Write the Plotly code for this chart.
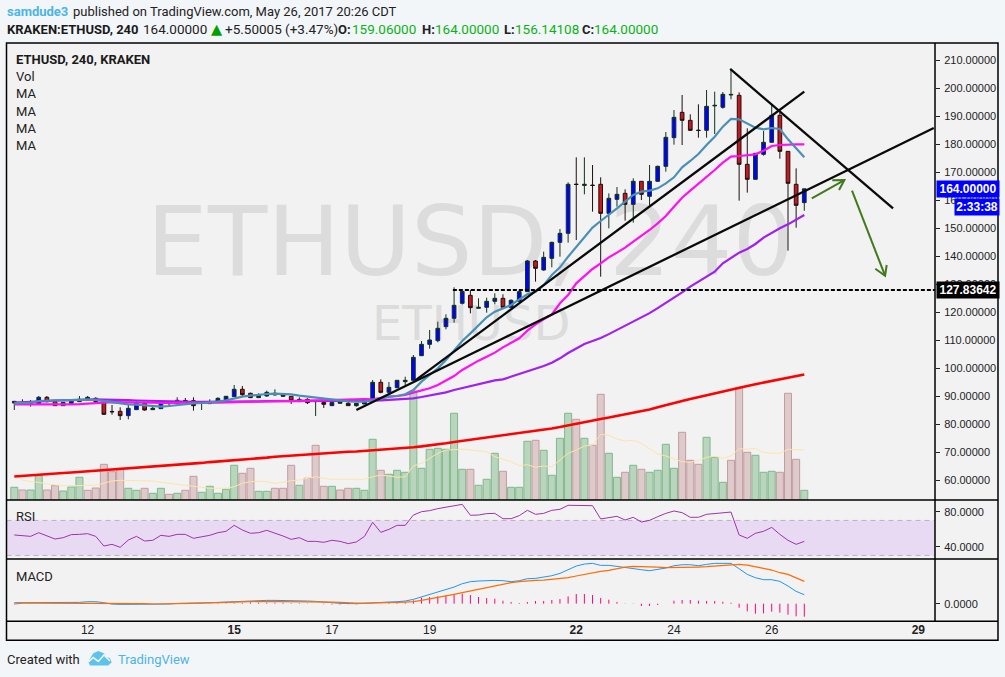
import plotly.graph_objects as go

# ---------- data ----------
bars = list(range(98))
open_ = [87.50,87.45,87.33,87.27,89.53,88.10,86.55,87.27,87.98,88.93,89.17,88.10,84.48,84.53,82.98,85.12,87.39,85.12,85.48,87.27,
         87.27,88.40,88.34,87.33,87.27,88.22,88.70,89.77,92.39,90.96,89.41,90.00,90.36,90.60,89.89,87.98,88.81,87.98,87.74,86.55,
         87.38,87.38,86.55,87.14,88.81,94.88,91.31,92.98,95.12,95.60,104.40,108.45,109.76,114.76,117.74,123.10,125.95,121.31,121.67,123.81,
         124.88,121.67,123.81,127.26,138.21,135.00,139.17,144.88,148.10,165.66,165.20,165.30,165.60,155.24,160.24,162.38,158.45,166.67,161.31,166.67,
         172.02,182.26,191.31,188.45,184.94,184.88,193.60,193.10,197.50,197.38,172.74,167.38,176.31,180.60,190.24,177.38,165.60,159.06]
high_ = [88.10,88.81,88.58,90.00,90.00,88.58,87.74,88.46,90.00,90.00,89.53,88.34,86.79,85.96,86.79,88.58,87.86,86.67,87.86,87.86,
         89.53,89.29,89.53,87.50,88.81,89.53,90.00,93.93,93.58,91.19,90.96,91.91,92.39,90.72,90.00,89.53,89.17,88.10,87.86,88.81,
         88.81,88.33,87.38,88.81,95.71,95.95,95.00,95.60,96.90,104.64,109.64,113.57,116.55,119.17,128.81,127.38,127.86,124.88,125.12,126.67,
         126.31,124.52,127.86,138.57,138.57,141.55,145.12,149.64,166.31,175.24,175.24,172.50,168.10,162.38,164.64,163.81,167.74,166.67,172.50,172.26,
         184.29,192.14,197.50,190.60,194.17,199.29,198.69,198.57,206.67,198.45,185.60,176.67,184.64,193.93,191.31,177.38,171.31,164.00]
low_ = [85.00,86.91,86.19,87.15,87.74,86.43,86.55,87.27,87.86,88.81,87.39,83.34,83.34,81.43,81.67,85.00,84.77,85.00,85.48,86.19,
        87.15,87.39,84.77,85.00,87.15,87.62,88.58,89.77,89.77,89.29,89.29,89.77,90.24,89.77,87.15,87.86,87.15,82.86,85.72,86.43,
        87.20,86.43,86.19,87.14,88.57,90.95,90.95,92.74,93.81,95.48,104.29,106.90,109.17,113.81,116.19,122.62,119.52,121.31,119.76,122.74,
        121.31,121.31,123.69,127.26,130.83,134.76,135.95,139.76,144.76,145.71,162.02,155.83,132.62,149.88,157.62,152.62,151.90,160.00,158.10,166.55,
        170.12,179.76,179.64,184.64,182.26,182.26,183.57,192.62,195.95,159.76,162.62,167.38,175.83,180.48,174.76,141.90,150.12,156.14]
close_ = [88.10,87.33,87.45,89.53,87.98,86.55,87.74,88.46,88.81,89.53,87.98,83.46,84.36,82.98,85.60,87.39,85.00,85.60,87.74,87.74,
          88.46,88.28,86.55,87.45,87.74,89.17,89.89,92.39,90.48,89.41,90.24,91.31,90.96,89.89,88.34,88.81,87.62,88.03,87.03,87.74,
          88.09,86.55,87.38,88.81,94.88,91.31,93.10,95.60,95.60,103.81,108.45,110.00,114.17,117.74,122.38,127.38,121.55,121.67,123.81,124.88,
          121.67,124.17,127.26,138.21,135.60,139.52,144.88,148.10,165.60,165.54,165.60,165.20,155.24,160.60,162.02,158.45,166.67,162.02,166.67,172.02,
          182.38,189.52,188.45,184.88,184.82,193.45,193.80,197.74,197.70,172.74,167.38,176.67,180.60,190.24,177.38,165.95,158.10,164.00]
volume = [12.7,10,10,24.3,10,14.3,9,13,22.7,9.7,12,35.7,28.3,31.7,11.7,9.7,11.7,6.7,11.7,5.7,
          6.7,9.7,23.7,7.7,13.7,6.7,10.7,34.7,26.7,31.7,8.7,8.7,11.7,11.7,34.7,14.7,21.7,54.7,13.7,13.7,
          10,11.7,11.7,9.7,60.7,29.7,25.7,29.7,27.7,109,31.7,50.7,51.7,50.7,86.7,30.7,30.7,14.7,20.7,46.7,
          28.7,12.7,12.7,58.7,59.7,49.7,24.7,61.7,86.7,80.7,61.7,54.7,105.7,46.7,22.7,27.7,34.7,30.7,27.7,29.7,
          55.7,31.7,67.7,39.7,35.7,62.7,42.7,17.7,39.7,112.7,47.7,44.7,27.7,28.7,27.7,106.7,40.7,9.7]
volume_up = [1,0,1,1,0,0,1,1,1,0,0,0,0,0,1,1,0,1,1,0,
             1,0,0,1,1,1,1,1,0,0,1,1,0,0,0,1,0,0,0,1,
             0,0,1,1,1,0,1,1,1,1,1,1,1,1,1,1,0,1,1,1,
             0,1,1,1,0,1,1,1,1,0,1,0,0,1,1,0,1,0,1,1,
             1,1,0,0,0,1,1,1,0,0,0,1,1,1,0,0,0,1]
volume_ma = [27,20,18.3,17.7,16,15,14.3,14.3,14.7,14.7,14.7,16.7,19,19.7,19.7,19.7,19.7,19,17.7,16.7,
             16,14.7,13.3,12.3,11.7,11.7,11.7,13.3,16.7,18.3,18.7,18.3,16.7,17.7,19.3,20,21.7,23.3,21.7,20.7,
             20.7,20.7,20.7,20.7,23.3,25,24,22.7,23.3,34,36.7,41.7,46.7,50,50.7,50.7,50,49.3,48.3,43.3,
             41,38.3,34.3,35.3,32.7,34,33.3,40,46.7,50,54,55,65.7,64.7,61,59,59.7,56.7,51.7,46,
             44,41,38.3,37.7,39.3,42.7,43.7,41.7,44,51.3,50.7,51.7,47.7,46.7,46.7,50.7,50.7,50]
ma_blue = [87.38,87.38,87.62,88.22,88.46,88.46,88.46,88.58,88.58,88.69,88.58,88.22,87.74,87.27,87.03,86.91,86.67,86.31,86.19,86.43,
           86.79,87.27,87.38,87.50,87.62,87.98,88.46,89.17,89.77,90.12,90.48,90.72,90.84,90.84,90.60,90.12,89.77,89.41,89.17,88.93,
           88.58,88.09,87.98,87.98,88.45,89.17,89.76,90.00,90.60,92.14,95.12,97.50,99.88,102.86,106.19,109.64,112.38,115.36,118.10,120.12,
           121.31,122.50,124.52,126.31,127.26,129.60,133.20,135.95,139.76,143.33,146.90,150.12,152.50,154.64,157.02,159.40,161.79,162.98,163.33,164.17,
           165.95,168.10,171.67,173.93,176.43,179.64,182.62,186.19,188.93,188.81,187.38,185.83,185.24,185.71,185.36,181.67,178.45,175.24]
ma_magenta = [87.0,87.0,86.9,86.9,86.8,86.8,86.9,87.0,87.1,87.2,87.4,87.6,87.8,87.8,87.7,87.7,87.6,87.6,87.5,87.5,
              87.4,87.4,87.4,87.5,87.5,87.6,87.7,87.8,87.8,87.9,88.0,88.1,88.1,88.2,88.2,88.3,88.3,88.4,88.4,88.5,
              88.6,88.9,88.9,88.9,88.81,89.4,89.76,90.0,90.36,91.19,91.9,92.74,93.93,95.48,97.14,99.29,101.07,102.62,104.05,105.48,
              107.38,109.05,110.6,113.33,115.6,117.38,119.17,123.1,126.07,130.24,132.86,135.36,137.38,139.52,141.19,142.98,145.12,147.14,149.29,151.67,
              154.29,157.62,160.83,163.33,165.71,168.33,170.71,173.33,175.48,175.71,175.95,176.31,177.62,179.29,179.64,179.88,179.88,179.88]
ma_purple = [87.6,87.7,87.8,88.0,88.2,88.4,88.5,88.6,88.7,88.8,88.8,88.7,88.7,88.6,88.5,88.4,88.3,88.2,88.1,88.1,
             88.0,88.0,87.9,87.9,87.9,87.9,87.9,88.0,88.0,88.0,88.1,88.2,88.2,88.3,88.3,88.3,88.3,88.3,88.2,88.2,
             88.1,88.1,88.1,88.2,88.33,88.45,88.57,88.69,88.93,89.17,89.64,90.12,90.6,91.31,92.14,92.86,93.57,94.29,95.0,95.6,
             95.95,96.9,97.62,98.69,99.64,100.7,101.9,103.45,105.36,107.02,108.57,109.64,110.7,112.1,113.6,115.0,116.8,118.2,119.6,121.4,
             123.2,125.0,127.02,129.05,130.83,132.62,134.4,137.38,139.17,141.19,142.5,144.29,146.55,148.33,149.88,151.31,152.86,154.64]
ma_red = [61.25,61.5,61.7,61.9,62.1,62.3,62.5,62.7,62.9,63.1,63.3,63.6,63.8,64.0,64.2,64.4,64.6,64.8,65.0,65.2,
          65.4,65.7,65.9,66.1,66.4,66.6,66.9,67.15,67.4,67.6,67.8,68.0,68.3,68.5,68.7,69.0,69.2,69.5,69.7,69.9,
          70.0,70.1,70.2,70.4,70.5,70.7,71.0,71.2,71.5,71.7,72.0,72.3,72.6,73.1,73.6,74.0,74.3,74.7,75.0,75.4,
          75.8,76.2,76.7,77.1,77.5,77.9,78.4,78.9,79.5,80.1,80.8,81.3,81.8,82.3,82.9,83.4,83.9,84.5,85.2,86.0,
          86.8,87.5,88.2,88.9,89.6,90.3,91.0,91.7,92.4,93.0,93.6,94.2,94.8,95.4,96.0,96.6,97.2,97.7]
rsi = [53.4,52.2,51.8,56.0,52.6,48.8,50.3,53.8,54.1,54.9,51.8,40.8,42.7,39.3,47.6,51.8,46.5,47.3,53.0,51.8,
       54.1,54.1,49.6,51.5,53.0,56.0,57.6,64.4,59.1,55.3,56.0,58.7,55.7,52.2,48.4,50.3,46.1,46.1,45.0,47.3,
       46.1,43.5,45.4,51.8,67.9,56.4,59.8,64.4,64.4,76.2,80.0,81.2,83.5,85.4,87.3,88.4,75.9,76.2,77.8,78.1,
       72.0,72.0,75.5,81.6,77.0,78.1,81.6,82.7,87.3,87.3,87.3,86.9,71.7,73.6,74.7,70.5,73.6,68.2,70.1,74.3,
       78.1,80.8,78.9,73.6,73.6,77.0,78.1,79.3,79.6,53.4,49.6,55.3,57.6,62.1,54.1,47.3,42.7,46.1]
macd = [.37,.37,.37,.25,.25,.25,.25,.37,.49,.74,.74,.37,-.12,-.25,-.25,-.12,0,-.12,-.12,-.12,
        .12,.25,.37,.37,.37,.49,.62,.74,1.11,1.23,1.23,1.23,1.23,1.23,1.11,1.11,.99,.86,.49,.37,
        .12,0,0,.12,.37,.49,.62,.74,.99,1.6,2.47,3.46,4.2,5.06,6.17,7.41,8.15,8.4,8.64,8.64,
        8.52,8.15,8.52,9.26,9.38,9.75,10.37,11.23,12.59,13.95,14.69,14.94,14.2,14.2,13.83,13.33,13.09,12.59,12.22,12.72,
        13.21,14.07,14.44,14.44,14.07,14.57,14.94,14.94,14.94,12.96,10.86,9.63,8.89,8.89,8.27,6.54,4.57,3.33]
signal = [-.12,.25,.25,.25,.25,.25,.25,.25,.25,.25,.25,.25,.12,.12,.25,.12,0,-.12,-.12,-.12,
          0,.12,.12,.2,.25,.3,.37,.49,.62,.74,.86,.86,.86,.86,.86,.86,.86,.86,.62,.62,
          .49,.25,.25,.25,.25,.37,.49,.49,.62,.74,1.23,1.73,2.22,2.84,3.46,4.07,4.69,5.43,6.05,6.79,
          7.41,7.78,8.15,8.52,8.64,8.77,9.01,9.26,9.63,10.25,10.86,11.36,11.98,12.35,13.09,13.58,13.83,13.83,13.83,13.58,
          13.33,13.33,13.46,13.58,13.58,13.7,13.95,14.32,14.57,14.57,14.32,13.58,13.09,12.47,11.48,10.86,9.63,8.27]
histogram = [-.2,.1,.1,0,0,.1,.1,.1,.2,.3,.3,.1,-.2,-.2,-.3,-.2,0,0,0,0,
             .1,.1,.2,.2,.1,.2,.2,.2,.3,.5,.4,.4,.4,.4,.2,.2,.1,0,-.2,-.3,
             -.3,-.2,-.2,-.1,.1,.1,.2,.3,.4,1.23,2.22,2.47,2.72,3.09,3.58,3.7,3.21,2.47,2.1,1.85,
             1.11,.62,.25,.62,.99,.99,1.36,1.73,2.72,3.58,3.58,3.21,2.1,1.48,.62,.12,.12,-.86,-.86,-.49,
             0,1.11,1.36,1.36,1.11,.99,.99,.74,.37,-1.48,-2.84,-3.7,-3.58,-2.96,-3.33,-4.07,-4.69,-4.81]
for a in (open_,high_,low_,close_,volume,volume_up,volume_ma,ma_blue,ma_magenta,ma_purple,ma_red,rsi,macd,signal,histogram):
    assert len(a) == 98, len(a)

trend_bar = [42, 112.9, None, 49.2, 97, None, 87.9, 107.9]
trend_price = [85.0, 185.7, None, 95.5, 198.7, None, 206.8, 157.0]
support_bar = [53.85, 113.05]
support_price = [127.83642, 127.83642]
arrow_bar = [97.92, 101.92, None, 100.44, 101.92, 101.27, None, 102.86, 106.92, None, 105.72, 106.92, 107.12]
arrow_price = [160.6, 167.14, None, 167.04, 167.14, 163.57, None, 163.32, 132.96, None, 135.46, 132.96, 136.79]

date_bars = [9, 27, 39, 51, 69, 81, 93, 111]
date_labels = ["12", "<b>15</b>", "17", "19", "<b>22</b>", "24", "26", "<b>29</b>"]
price_ticks = [60, 70, 80, 90, 100, 110, 120, 130, 140, 150, 160, 170, 180, 190, 200, 210]
rsi_ticks = [40, 80]
macd_ticks = [0]

# ---------- layout helpers (page pixels -> paper fractions) ----------
W, H = 1005, 677
px = lambda x: x / W
py = lambda y: 1 - y / H
LEFT, RIGHT, OUTER = 6.5, 935.0, 998.0
TOP, PANE1, PANE2, PANE3, BOTTOM = 43.0, 500.0, 559.0, 621.3, 640.3
X_FONT = "Liberation Sans, Arial, sans-serif"
UI_FONT = "Roboto, sans-serif"
WM_FONT = "DejaVu Sans, sans-serif"

fig = go.Figure()

# watermark (behind everything, on the base axis)
fig.add_trace(go.Scatter(x=[56], y=[249], mode="text", text=["ETHUSD,\u00a0240"], textposition="middle center",
                         textfont=dict(family=WM_FONT, size=97, color="#dcdcdc"), xaxis="x", yaxis="y", hoverinfo="skip"))
fig.add_trace(go.Scatter(x=[56.1], y=[172], mode="text", text=["ETHUSD"], textposition="middle center",
                         textfont=dict(family=WM_FONT, size=48, color="#dcdcdc"), xaxis="x", yaxis="y", hoverinfo="skip"))

# volume on the base axis
fig.add_trace(go.Bar(x=bars, y=volume, width=0.86, xaxis="x", yaxis="y",
                     marker=dict(color=["#bad5bd" if u else "#dec9cb" for u in volume_up],
                                 line=dict(color=["#7fb98b" if u else "#c29ca0" for u in volume_up], width=1))))
fig.add_trace(go.Scatter(x=bars, y=volume_ma, mode="lines", line=dict(color="#fde5a8", width=1), xaxis="x", yaxis="y"))

# price overlay
fig.add_trace(go.Candlestick(x=bars, open=open_, high=high_, low=low_, close=close_, xaxis="x", yaxis="y2",
                             whiskerwidth=0,
                             increasing=dict(fillcolor="#0000ff", line=dict(color="#12331a", width=1)),
                             decreasing=dict(fillcolor="#c8181e", line=dict(color="#1c1010", width=1))))
for series, colour, lw in ((ma_red, "#ff0000", 2.6), (ma_purple, "#a01ff2", 2.2), (ma_magenta, "#ff10f0", 2.2), (ma_blue, "#4a90b5", 2.2)):
    fig.add_trace(go.Scatter(x=bars, y=series, mode="lines", line=dict(color=colour, width=lw), xaxis="x", yaxis="y2"))
fig.add_trace(go.Scatter(x=trend_bar, y=trend_price, mode="lines", line=dict(color="#0a0a0a", width=2.3), xaxis="x", yaxis="y2"))
fig.add_trace(go.Scatter(x=support_bar, y=support_price, mode="lines", line=dict(color="#000000", width=2, dash="4px,2px"), xaxis="x", yaxis="y2"))
fig.add_trace(go.Scatter(x=arrow_bar, y=arrow_price, mode="lines", line=dict(color="#41791f", width=2), xaxis="x", yaxis="y2"))

# RSI
fig.add_trace(go.Scatter(x=bars, y=rsi, mode="lines", line=dict(color="#a032ae", width=1), xaxis="x", yaxis="y3"))

# MACD: histogram stems as one broken line through the bar positions
stem_x, stem_y = [], []
for b, h in zip(bars, histogram):
    stem_x += [b, b, None]
    stem_y += [0, h, None]
fig.add_trace(go.Scatter(x=stem_x, y=stem_y, mode="lines", line=dict(color="#ff0080", width=1), xaxis="x", yaxis="y4"))
fig.add_trace(go.Scatter(x=bars, y=macd, mode="lines", line=dict(color="#2196f3", width=1), xaxis="x", yaxis="y4"))
fig.add_trace(go.Scatter(x=bars, y=signal, mode="lines", line=dict(color="#ff6d00", width=1.2), xaxis="x", yaxis="y4"))


def rect(x0, y0, x1, y1, fill=None, line=None, width=1, layer="below"):
    return dict(type="rect", xref="paper", yref="paper", x0=px(x0), x1=px(x1), y0=py(y0), y1=py(y1),
                fillcolor=fill or "rgba(0,0,0,0)", line=dict(color=line or "rgba(0,0,0,0)", width=width), layer=layer)


def hline(x0, x1, y, colour="#000000", width=1.5, layer="above"):
    return dict(type="line", xref="paper", yref="paper", x0=px(x0), x1=px(x1), y0=py(y), y1=py(y),
                line=dict(color=colour, width=width), layer=layer)


def vline(x, y0, y1, colour="#000000", width=1.5, layer="above"):
    return dict(type="line", xref="paper", yref="paper", x0=px(x), x1=px(x), y0=py(y0), y1=py(y1),
                line=dict(color=colour, width=width), layer=layer)


def poly(points):
    return "M" + "L".join(f"{px(x):.5f},{py(y):.5f}" for x, y in points) + "Z"


shapes = [
    rect(LEFT, TOP, OUTER, BOTTOM, fill="#f2f2f2"),
    dict(type="rect", xref="paper", yref="y3", x0=px(LEFT), x1=px(RIGHT), y0=30, y1=70, fillcolor="#e8daf3",
         line=dict(width=0), layer="below"),
    dict(type="line", xref="paper", yref="y3", x0=px(LEFT), x1=px(RIGHT), y0=70, y1=70,
         line=dict(color="#bfb0c4", width=1, dash="5px,4px"), layer="below"),
    dict(type="line", xref="paper", yref="y3", x0=px(LEFT), x1=px(RIGHT), y0=30, y1=30,
         line=dict(color="#bfb0c4", width=1, dash="5px,4px"), layer="below"),
    rect(LEFT, TOP, OUTER, BOTTOM, line="#000000", width=1.5, layer="above"),
    hline(LEFT, OUTER, PANE1), hline(LEFT, OUTER, PANE2), hline(LEFT, OUTER, PANE3),
    vline(RIGHT, TOP, PANE3),
    # TradingView logo
    dict(type="path", xref="paper", yref="paper", layer="above", line=dict(width=0), fillcolor="#5cc3ea",
         path=poly([(88.3, 661.7), (93.3, 653.3), (98.3, 651), (104, 653.3), (106, 656.7), (110, 658.3),
                    (111.7, 662.3), (108.3, 665.5), (90, 665.5)])),
    dict(type="path", xref="paper", yref="paper", layer="above", line=dict(color="#f2f6f9", width=1.6),
         fillcolor="rgba(0,0,0,0)",
         path="M" + "L".join(f"{px(x):.5f},{py(y):.5f}" for x, y in [(88.3, 662), (93.3, 657.5), (98.3, 661.5), (104, 655), (110, 661)])),
]


def text(x, y, s, size=13, colour="#222222", family=UI_FONT, xanchor="left", **kw):
    return dict(xref="paper", yref="paper", x=px(x), y=py(y), text=s, showarrow=False, xanchor=xanchor,
                yanchor="middle", align="left", font=dict(family=family, size=size, color=colour), borderpad=0, **kw)


GREEN = "#0ab216"
DIGITS = 13.5
annotations = [
    text(5.5, 11, "<b>samdude3</b>", colour="#4ab5e6"),
    text(71.5, 11, "published on TradingView.com, May 26, 2017 20:26 CDT"),
    text(5.5, 29, "<b>KRAKEN:ETHUSD, 240</b>", colour="#1a1a1a"),
    text(142, 29, "164.00000", size=DIGITS),
    text(209.5, 29, "\u25b2", colour="#00a000", size=14.5, family=WM_FONT),
    text(224, 29, "+5.50005 (+3.47%)", size=DIGITS),
    text(336.7, 29, "<b>O:</b>"), text(351, 29, "159.06000", colour=GREEN, size=DIGITS),
    text(420.7, 29, "<b>H:</b>"), text(434, 29, "164.00000", colour=GREEN, size=DIGITS),
    text(503.3, 29, "<b>L:</b>"), text(514, 29, "156.14108", colour=GREEN, size=DIGITS),
    text(580.7, 29, "<b>C:</b>"), text(593.3, 29, "164.00000", colour=GREEN, size=DIGITS),
    text(14.5, 60, "<b>ETHUSD, 240, KRAKEN</b>", colour="#1a1a1a"),
    text(14.5, 77, "Vol"), text(14.5, 94, "MA"), text(14.5, 111, "MA"), text(14.5, 128, "MA"), text(14.5, 145, "MA"),
    text(14.5, 516.5, "RSI"), text(14.5, 576.5, "MACD"),
    text(5.5, 659.5, "Created with"),
    text(116.5, 659.5, "TradingView", colour="#4ab5e6"),
]
for value, label, bg in ((164.0, "164.00000", "#0000ff"), (127.83642, "127.83642", "#000000")):
    annotations.append(dict(xref="paper", yref="y2", x=px(RIGHT + 0.7), y=value, text=f"<b>{label}</b>", showarrow=False,
                            xanchor="left", yanchor="middle", width=62, height=15.7, bgcolor=bg, align="center",
                            font=dict(family=X_FONT, size=12, color="#ffffff"), borderpad=0))
annotations.append(dict(xref="paper", yref="paper", x=px(954), y=py(207), text="<b>2:33:38</b>", showarrow=False,
                        xanchor="left", yanchor="middle", width=44, height=16, bgcolor="#0000ff", align="center",
                        font=dict(family=X_FONT, size=12, color="#ffffff"), borderpad=0))

axis_font = dict(family=X_FONT, size=11, color="#222222")
common = dict(anchor="x", side="right", showgrid=False, zeroline=False, showline=False, ticks="outside",
              ticklen=4, tickcolor="#222222", tickfont=axis_font, ticklabelstandoff=2)

fig.update_layout(
    width=W, height=H, margin=dict(l=0, r=0, t=0, b=0), autosize=False,
    paper_bgcolor="#f3f6f9", plot_bgcolor="rgba(0,0,0,0)", showlegend=False, barmode="overlay",
    hovermode=False, boxgap=0.35, shapes=shapes, annotations=annotations,
    xaxis=dict(domain=[px(LEFT), px(RIGHT)], range=[-0.958, 113.05], anchor="y4", tickmode="array",
               tickvals=date_bars, ticktext=date_labels, showgrid=False, zeroline=False, showline=False, ticks="",
               tickfont=dict(family=X_FONT, size=12, color="#222222"), rangeslider=dict(visible=False)),
    yaxis=dict(domain=[py(PANE1), py(TOP)], range=[0, 457], visible=False, fixedrange=True),
    yaxis2=dict(common, domain=[py(PANE1), py(TOP)], range=[52.857, 216.07], overlaying="y",
                tickmode="array", tickvals=price_ticks, tickformat=".5f"),
    yaxis3=dict(common, domain=[py(PANE2), py(PANE1)], range=[25.94, 93.37], tickmode="array",
                tickvals=rsi_ticks, tickformat=".4f"),
    yaxis4=dict(common, domain=[py(PANE3), py(PANE2)], range=[-6.52, 16.56], tickmode="array",
                tickvals=macd_ticks, tickformat=".4f"),
)

fig.write_html("out.html", config={"displayModeBar": False},
               post_script="document.body.style.margin='0';document.body.style.background='#f3f6f9';")
